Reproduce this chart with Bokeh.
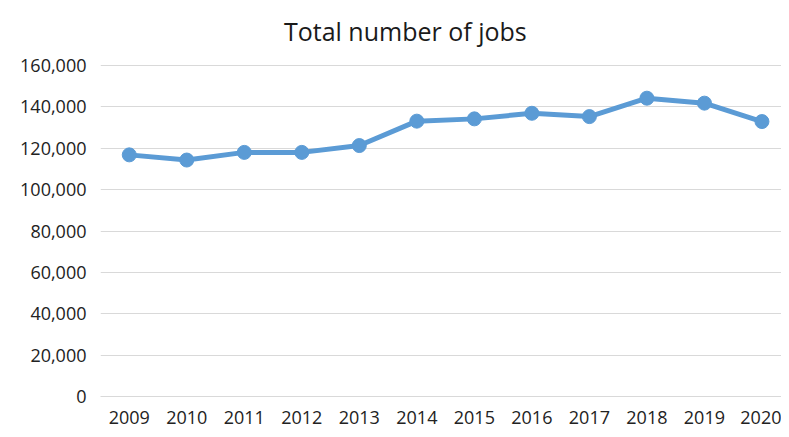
from bokeh.plotting import figure
from bokeh.models import NumeralTickFormatter, FixedTicker, ColumnDataSource, Range1d, Label
from bokeh.embed import file_html
from bokeh.resources import INLINE

years = [2009, 2010, 2011, 2012, 2013, 2014,
         2015, 2016, 2017, 2018, 2019, 2020]
jobs = [116800, 114300, 118000, 118000, 121300, 133100,
        134200, 136900, 135300, 144200, 141800, 132900]
y_ticks = [0, 20000, 40000, 60000, 80000, 100000, 120000, 140000, 160000]
title_text = "Total number of jobs"

src = ColumnDataSource(data=dict(year=years, jobs=jobs))

FONT = "Open Sans"
TXT = "#222222"

# frame spans the full height above the x labels; headroom above 160,000
# holds the title
p = figure(width=781, height=429,
           x_range=Range1d(years[0] - 0.5, years[-1] + 0.34),
           y_range=Range1d(0, 191420),
           output_backend="svg", toolbar_location=None)
p.min_border_left = 100
p.min_border_right = 0
p.min_border_top = 0
p.min_border_bottom = 33
p.outline_line_color = None
p.background_fill_color = "white"
p.border_fill_color = "white"

p.add_layout(Label(x=2013.8, y=176900, text=title_text,
                   text_font=FONT, text_font_size="25px",
                   text_color="#1a1a1a", text_align="center",
                   text_baseline="alphabetic"))

p.line("year", "jobs", source=src, line_color="#5B9BD5", line_width=5)
p.scatter("year", "jobs", source=src, size=14, fill_color="#5B9BD5",
          line_color="#5B9BD5")

p.xgrid.grid_line_color = None
p.ygrid.grid_line_color = "#D9D9D9"
p.ygrid.grid_line_width = 1

p.xaxis.ticker = FixedTicker(ticks=years)
p.xaxis.formatter = NumeralTickFormatter(format="0")
p.yaxis.ticker = FixedTicker(ticks=y_ticks)
p.yaxis.formatter = NumeralTickFormatter(format="0,0")
for ax in (p.xaxis, p.yaxis):
    ax.axis_line_color = None
    ax.major_tick_line_color = None
    ax.minor_tick_line_color = None
    ax.major_tick_out = 0
    ax.major_label_text_font = FONT
    ax.major_label_text_font_size = "18px"
    ax.major_label_text_color = TXT
p.xaxis.axis_line_color = "#D9D9D9"
p.xaxis.major_label_text_line_height = 0.8
p.xaxis.major_label_standoff = 14
p.yaxis.major_label_standoff = 14

open("out.html", "w").write(file_html(p, INLINE))
